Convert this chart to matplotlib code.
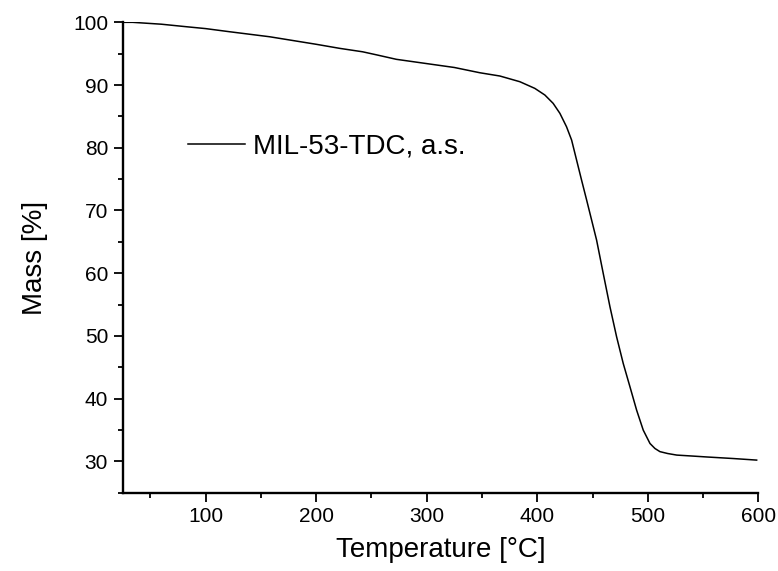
import matplotlib
matplotlib.use("Agg")
import matplotlib.pyplot as plt
from matplotlib.ticker import MultipleLocator

# TGA curve
TEMP = [25, 34, 60, 82.5, 100, 121.7, 157.9, 200, 221.3, 242.1, 255, 272.6,
        302.8, 325, 348.1, 366.2, 384.3, 397.8, 406.9, 414.4, 420.5, 426.5,
        431.1, 435.6, 440.1, 444.7, 449.2, 453.7, 459.7, 465.8, 471.8, 477.8,
        483.9, 489.9, 495.9, 502.0, 506.5, 511.0, 518, 526.2, 540, 553.3,
        577.4, 598.5]
MASS = [100.0, 100.0, 99.7, 99.3, 99.0, 98.5, 97.7, 96.5, 95.85, 95.3, 94.8, 94.1,
        93.35, 92.8, 91.96, 91.44, 90.53, 89.47, 88.41, 87.08, 85.49, 83.35,
        81.23, 78.04, 74.85, 71.66, 68.47, 65.28, 59.97, 54.64, 49.86, 45.61,
        41.88, 38.17, 34.98, 32.85, 32.05, 31.55, 31.25, 31.0, 30.85, 30.7,
        30.45, 30.2]
LABEL = "MIL-53-TDC, a.s."

plt.rcParams["font.family"] = ["Liberation Sans", "DejaVu Sans"]

fig = plt.figure(figsize=(7.78, 5.71), dpi=100)
ax = fig.add_axes([0.1577, 0.1371, 0.8170, 0.8238])
ax.plot(TEMP, MASS, "-", color="black", lw=1.1, label=LABEL)

ax.set_xlim(25, 600)
ax.set_ylim(25, 100)
ax.xaxis.set_major_locator(MultipleLocator(100))
ax.xaxis.set_minor_locator(MultipleLocator(50))
ax.yaxis.set_major_locator(MultipleLocator(10))
ax.yaxis.set_minor_locator(MultipleLocator(5))
for s in ("top", "right"):
    ax.spines[s].set_visible(False)
for s in ("left", "bottom"):
    ax.spines[s].set_linewidth(1.7)
ax.tick_params(which="major", direction="out", length=6.5, width=1.3,
               labelsize=15, pad=4)
ax.tick_params(which="minor", direction="out", length=3.5, width=1.3)

ax.set_xlabel("Temperature [°C]", fontsize=20, labelpad=8)
ax.set_ylabel("Mass [%]", fontsize=20, labelpad=18)

ax.legend(loc="center left", bbox_to_anchor=(0.1027, 0.735), frameon=False,
          fontsize=20, borderpad=0, borderaxespad=0, handlelength=2.05,
          handletextpad=0.3)

fig.savefig("out.png", dpi=100)
